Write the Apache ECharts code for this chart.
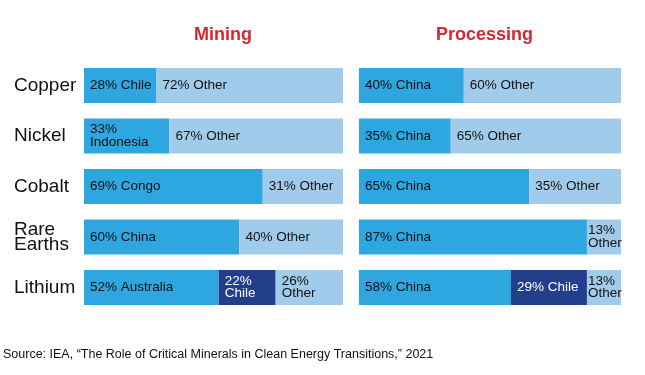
<!DOCTYPE html>
<html>
<head>
<meta charset="utf-8">
<script src="https://cdn.jsdelivr.net/npm/echarts@6/dist/echarts.min.js"></script>
<style>
html,body{margin:0;padding:0;background:#fff;}
#c{width:645px;height:375px;}
</style>
</head>
<body>
<div id="c"></div>
<script>
const minerals = ['Copper', 'Nickel', 'Cobalt', 'Rare\nEarths', 'Lithium'];
const panelTitles = ['Mining', 'Processing'];
const miningLead = [28, 33, 69, 60, 52];
const miningLeadName = ['Chile', 'Indonesia', 'Congo', 'China', 'Australia'];
const miningSecond = [null, null, null, null, 22];
const miningSecondName = ['', '', '', '', 'Chile'];
const miningOther = [72, 67, 31, 40, 26];
const processingLead = [40, 35, 65, 87, 58];
const processingLeadName = ['China', 'China', 'China', 'China', 'China'];
const processingSecond = [null, null, null, null, 29];
const processingSecondName = ['', '', '', '', 'Chile'];
const processingOther = [60, 65, 35, 13, 13];
const otherName = ['Other', 'Other', 'Other', 'Other', 'Other'];
const sourceText = 'Source: IEA, \u201cThe Role of Critical Minerals in Clean Energy Transitions,\u201d 2021';

const FONT = '"Liberation Sans", Arial, Helvetica, sans-serif';
const LABEL_SIZE = 13.5;
const ctx = document.createElement('canvas').getContext('2d');
ctx.font = LABEL_SIZE + 'px ' + FONT;
function measure(t) { return ctx.measureText(t).width; }

const GRID_W = [259, 262];

function makeData(vals, names, widthPx) {
  return vals.map(function (v, i) {
    if (v == null) return null;
    const name = names[i];
    const one = v + '% ' + name;
    const w = measure(one);
    const seg = v / 100 * widthPx;
    let text, pad;
    if (w + 10 <= seg) {
      text = one; pad = 6;
    } else {
      text = v + '%\n' + name;
      const w2 = Math.max(measure(v + '%'), measure(name));
      pad = Math.max(1, Math.min(6, (seg - w2) / 2));
    }
    return { value: v, label: { formatter: text, distance: pad } };
  });
}

const C_LEAD = '#2ea7e0';
const C_SECOND = '#233e8b';
const C_OTHER = '#a0cbeb';

function series(idx, vals, names, color, labelColor) {
  return {
    type: 'bar', stack: 's' + idx, xAxisIndex: idx, yAxisIndex: idx,
    barWidth: 35,
    itemStyle: { color: color },
    label: { show: true, position: 'insideLeft', color: labelColor, fontSize: LABEL_SIZE,
      fontFamily: FONT, lineHeight: 12.5 },
    data: makeData(vals, names, GRID_W[idx]),
    silent: true
  };
}

const chart = echarts.init(document.getElementById('c'), null, { renderer: 'canvas' });
chart.setOption({
  animation: false,
  backgroundColor: '#ffffff',
  title: [
    { text: panelTitles[0], left: 194, top: 26, padding: 0,
      textStyle: { color: '#d7262f', fontSize: 18, fontWeight: 'bold', fontFamily: FONT } },
    { text: panelTitles[1], left: 436, top: 26, padding: 0,
      textStyle: { color: '#d7262f', fontSize: 18, fontWeight: 'bold', fontFamily: FONT } },
    { text: sourceText, left: 3, top: 348, padding: 0,
      textStyle: { color: '#111', fontSize: 12.5, fontWeight: 'normal', fontFamily: FONT } }
  ],
  grid: [
    { left: 84, width: GRID_W[0], top: 60.25, height: 252.5 },
    { left: 359, width: GRID_W[1], top: 60.25, height: 252.5 }
  ],
  xAxis: [
    { type: 'value', gridIndex: 0, min: 0, max: 100, show: false },
    { type: 'value', gridIndex: 1, min: 0, max: 100, show: false }
  ],
  yAxis: [
    { type: 'category', gridIndex: 0, data: minerals, inverse: true,
      axisLine: { show: false }, axisTick: { show: false },
      axisLabel: { align: 'left', margin: 70, color: '#111', fontSize: 19,
        fontFamily: FONT, lineHeight: 15 } },
    { type: 'category', gridIndex: 1, data: minerals, inverse: true, show: false }
  ],
  series: [
    series(0, miningLead, miningLeadName, C_LEAD, '#111'),
    series(0, miningSecond, miningSecondName, C_SECOND, '#fff'),
    series(0, miningOther, otherName, C_OTHER, '#111'),
    series(1, processingLead, processingLeadName, C_LEAD, '#111'),
    series(1, processingSecond, processingSecondName, C_SECOND, '#fff'),
    series(1, processingOther, otherName, C_OTHER, '#111')
  ]
});
</script>
</body>
</html>
